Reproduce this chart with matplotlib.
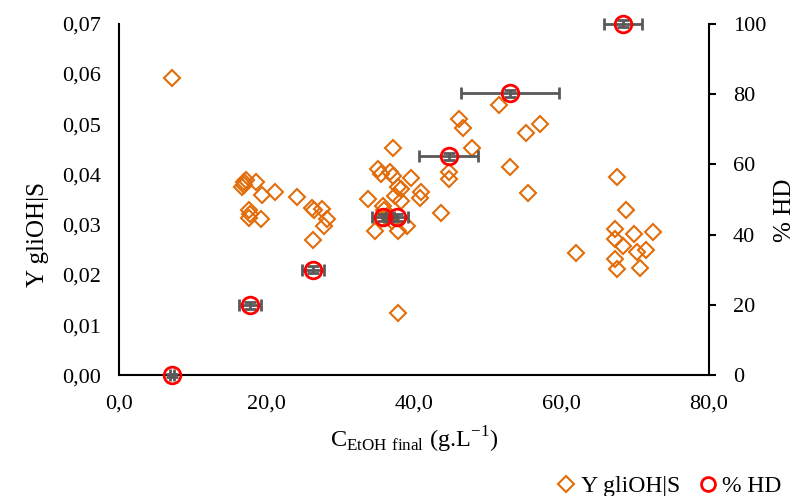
import matplotlib
matplotlib.use("Agg")
import matplotlib.pyplot as plt
from matplotlib.ticker import FuncFormatter
from matplotlib.lines import Line2D

# Y gliOH|S (diamonds, left axis)
etoh_y = [7.2, 16.9, 17.2, 16.7, 17.0, 18.6, 19.4, 21.1, 17.6, 17.8, 17.6, 19.3,
          24.1, 26.2, 26.4, 27.6, 28.2, 27.8, 26.3,
          37.1, 35.1, 35.6, 36.7, 37.2, 38.3, 37.8, 39.6, 40.9, 40.8, 33.8,
          37.4, 38.3, 43.7, 35.8, 36.0, 36.4, 37.0, 35.5, 34.7, 37.9, 39.0, 37.9,
          44.7, 44.7, 46.1, 46.6, 47.9, 51.5, 53.0, 55.2, 57.1, 55.4, 62.0,
          67.5, 68.7, 67.2, 67.2, 68.4, 69.8, 72.4, 70.3, 71.5, 67.2, 67.5, 70.6]
y_glioh = [0.0593, 0.0385, 0.0389, 0.0376, 0.0379, 0.0386, 0.0359, 0.0365, 0.0330, 0.0321, 0.0313, 0.0312,
           0.0355, 0.0333, 0.0330, 0.0331, 0.0311, 0.0297, 0.0270,
           0.0452, 0.0411, 0.0402, 0.0406, 0.0398, 0.0371, 0.0376, 0.0393, 0.0365, 0.0353, 0.0351,
           0.0357, 0.0347, 0.0323, 0.0338, 0.0330, 0.0318, 0.0308, 0.0312, 0.0287, 0.0287, 0.0297, 0.0124,
           0.0406, 0.0391, 0.0511, 0.0493, 0.0453, 0.0538, 0.0415, 0.0483, 0.0501, 0.0364, 0.0244,
           0.0395, 0.0329, 0.0292, 0.0272, 0.0257, 0.0282, 0.0285, 0.0245, 0.0250, 0.0232, 0.0212, 0.0213]

# % HD (circles, right axis)
etoh_hd = [7.2, 17.8, 26.3, 35.8, 37.7, 44.7, 53.0, 68.3]
hd = [0, 20, 30, 45, 45, 62.3, 80.2, 100]
etoh_hd_err = [0.3, 1.5, 1.5, 1.5, 1.5, 4.0, 6.6, 2.6]
hd_err = [0.5, 1, 1, 1, 1, 1, 1, 1]

plt.rcParams['font.family'] = ['Liberation Serif', 'DejaVu Serif']
plt.rcParams['mathtext.fontset'] = 'custom'
plt.rcParams['mathtext.rm'] = 'Liberation Serif'

orange = '#E36C0A'
gray = '#595959'

fig = plt.figure(figsize=(8.03, 4.96), dpi=100)
ax = fig.add_axes([0.148, 0.243, 0.735, 0.709])

ax.plot(etoh_y, y_glioh, linestyle='none', marker='D', markersize=8.5,
        markerfacecolor='none', markeredgecolor=orange, markeredgewidth=1.5, zorder=3)
ax.set_xlim(0, 80)
ax.set_ylim(0, 0.07)
ax.set_xticks([0, 20, 40, 60, 80])
ax.set_yticks([i * 0.01 for i in range(8)])
ax.xaxis.set_major_formatter(FuncFormatter(lambda v, p: f"{v:.1f}".replace('.', ',')))
ax.yaxis.set_major_formatter(FuncFormatter(lambda v, p: f"{v:.2f}".replace('.', ',')))
ax.tick_params(axis='both', length=0, labelsize=16)
ax.tick_params(axis='x', pad=14)
ax.tick_params(axis='y', pad=13)
ax.spines['top'].set_visible(False)
ax.spines['right'].set_visible(False)
for s in ['left', 'bottom']:
    ax.spines[s].set_linewidth(1.5)
ax.set_xlabel(r'C$_{\mathrm{EtOH\ final}}$ (g.L$^{\mathrm{-1}}$)', fontsize=17.5, labelpad=8)
ax.set_ylabel('Y gliOH|S', fontsize=18)
ax.yaxis.set_label_coords(-0.119, 0.40)

ax2 = ax.twinx()
ax2.errorbar(etoh_hd, hd, xerr=etoh_hd_err, yerr=hd_err, fmt='none', ecolor=gray,
             elinewidth=2, capsize=4.5, capthick=2, zorder=2, clip_on=False)
ax2.plot(etoh_hd, hd, linestyle='none', marker='o', markersize=12, clip_on=False,
         markerfacecolor='none', markeredgecolor='#FF0000', markeredgewidth=2, zorder=4)
ax2.set_ylim(0, 100)
ax2.set_yticks(range(0, 101, 20))
ax2.tick_params(axis='y', length=5, width=1.5, labelsize=16, pad=12)
ax2.spines['top'].set_visible(False)
ax2.spines['left'].set_visible(False)
ax2.spines['bottom'].set_visible(False)
ax2.spines['right'].set_linewidth(1.5)
ax2.set_ylabel('% HD', fontsize=18)
ax2.yaxis.set_label_coords(1.11, 0.47)

handles = [Line2D([], [], linestyle='none', marker='D', markersize=8, markerfacecolor='none',
                  markeredgecolor=orange, markeredgewidth=1.5),
           Line2D([], [], linestyle='none', marker='o', markersize=10, markerfacecolor='none',
                  markeredgecolor='#FF0000', markeredgewidth=2)]
fig.legend(handles, ['Y gliOH|S', '% HD'], loc='lower right', bbox_to_anchor=(1.0, -0.045),
           ncol=2, frameon=False, fontsize=17, handletextpad=0.1, columnspacing=0.7,
           handlelength=1.0)

fig.savefig('out.png', dpi=100)
